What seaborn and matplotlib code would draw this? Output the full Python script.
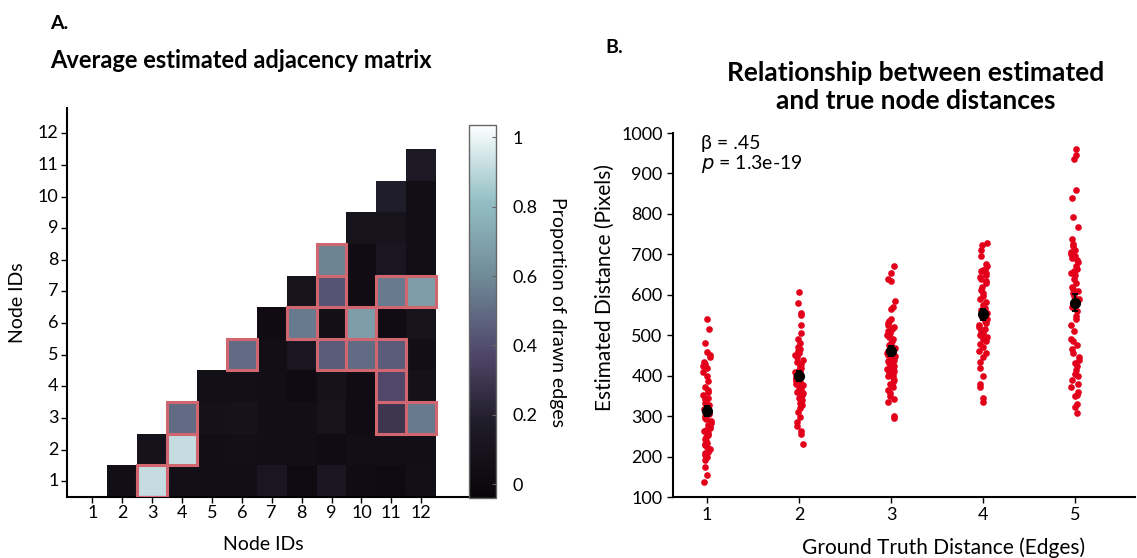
import numpy as np
import pandas as pd
import matplotlib
matplotlib.use("Agg")
import matplotlib.pyplot as plt
from matplotlib.colors import LinearSegmentedColormap
from matplotlib.patches import Rectangle
import seaborn as sns

plt.rcParams["font.family"] = ["Lato", "DejaVu Sans"]

# ---- panel A data: average estimated adjacency (column node -> values for rows 1..col-1)
nodes = list(range(1, 13))
col_values = {
    2: [0.04],
    3: [0.92, 0.08],
    4: [0.05, 0.92, 0.50],
    5: [0.04, 0.04, 0.07, 0.05],
    6: [0.04, 0.05, 0.08, 0.05, 0.50],
    7: [0.12, 0.04, 0.04, 0.04, 0.04, 0.02],
    8: [0.01, 0.04, 0.04, 0.02, 0.12, 0.55, 0.09],
    9: [0.12, 0.03, 0.09, 0.08, 0.45, 0.05, 0.42, 0.58],
    10: [0.03, 0.04, 0.03, 0.03, 0.50, 0.68, 0.03, 0.03, 0.09],
    11: [0.01, 0.04, 0.30, 0.38, 0.45, 0.03, 0.55, 0.12, 0.09, 0.18],
    12: [0.05, 0.04, 0.55, 0.07, 0.04, 0.09, 0.68, 0.04, 0.04, 0.04, 0.15],
}
# true edges (column node, row node), outlined in red
true_edges = [(3, 1), (4, 2), (4, 3), (6, 5), (8, 6), (9, 5), (9, 7), (9, 8),
              (10, 5), (10, 6), (11, 3), (11, 4), (11, 5), (11, 7), (12, 3), (12, 7)]

# ---- panel B data: estimated distances per ground-truth distance
d1 = [540, 515, 482, 458, 452, 445, 435, 428, 424, 418, 410, 398, 388, 372, 365, 360, 352, 346,
      342, 338, 332, 328, 322, 318, 312, 306, 300, 296, 292, 288, 284, 278, 274, 270, 266, 262,
      258, 254, 248, 244, 238, 234, 230, 228, 224, 218, 212, 208, 204, 198, 192, 175, 155, 136]
d2 = [608, 580, 555, 550, 525, 505, 490, 480, 470, 465, 460, 455, 450, 445, 440, 435, 430, 425,
      420, 415, 412, 408, 405, 400, 396, 392, 388, 384, 380, 376, 372, 368, 364, 360, 356, 352,
      348, 344, 340, 336, 332, 328, 320, 310, 298, 285, 275, 262, 255, 230]
d3 = [670, 655, 640, 635, 585, 570, 565, 540, 535, 530, 525, 520, 515, 510, 505, 500, 495, 490,
      485, 480, 476, 472, 468, 464, 460, 456, 452, 448, 444, 440, 436, 432, 428, 424, 420, 416,
      412, 408, 404, 400, 396, 390, 385, 380, 372, 365, 358, 350, 342, 335, 300, 295]
d4 = [728, 722, 712, 695, 675, 670, 665, 662, 658, 655, 650, 645, 640, 635, 628, 620, 612, 605,
      598, 590, 582, 575, 568, 562, 556, 550, 545, 540, 535, 530, 525, 520, 515, 510, 505, 500,
      495, 490, 485, 478, 470, 462, 455, 445, 435, 420, 400, 380, 372, 345, 335]
d5 = [960, 945, 935, 858, 840, 792, 768, 738, 725, 720, 712, 705, 700, 695, 690, 685, 680, 670,
      665, 660, 655, 650, 640, 630, 620, 615, 610, 605, 598, 590, 580, 570, 560, 548, 540, 525,
      510, 490, 485, 475, 465, 455, 445, 440, 432, 425, 415, 405, 398, 390, 380, 372, 360, 352,
      350, 330, 322, 308]

# build matrix (rows = row node, cols = column node)
mat = pd.DataFrame(np.nan, index=nodes, columns=nodes)
for c, vals in col_values.items():
    for r, v in enumerate(vals, start=1):
        mat.loc[r, c] = v

cmap = LinearSegmentedColormap.from_list("adj", [
    (0.0, (0.04, 0.02, 0.04)),
    (0.2, (0.12, 0.11, 0.16)),
    (0.4, (0.32, 0.29, 0.43)),
    (0.6, (0.44, 0.55, 0.60)),
    (0.8, (0.58, 0.75, 0.77)),
    (1.0, (0.99, 1.0, 1.0)),
])

fig = plt.figure(figsize=(11.37, 5.58), dpi=100)

# ---------------- Panel A ----------------
ax = fig.add_axes([0.0589, 0.1093, 0.3747, 0.6972])
cax = fig.add_axes([0.4125, 0.1075, 0.0237, 0.668])
sns.heatmap(mat, mask=mat.isna(), cmap=cmap, vmin=-0.04, vmax=1.035,
            ax=ax, cbar_ax=cax, linewidths=0)
ax.set_xlim(-0.345, 13.9)
ax.set_ylim(0.0, 12.3)
ax.set_xticks(np.arange(12) + 0.5)
ax.set_xticklabels(nodes, rotation=0, fontsize=13)
ax.set_yticks(np.arange(12) + 0.5)
ax.set_yticklabels(nodes, rotation=0, fontsize=13)
for s in ["left", "bottom"]:
    ax.spines[s].set_visible(True)
    ax.spines[s].set_linewidth(1.5)
    ax.spines[s].set_color("black")
ax.tick_params(axis="both", length=4, width=1, pad=2)
ax.set_xlabel("Node IDs", fontsize=14)
ax.set_ylabel("Node IDs", fontsize=14)
ax.xaxis.set_label_coords(0.46, -0.1)
ax.yaxis.set_label_coords(-0.095, 0.5)
for c, r in true_edges:
    ax.add_patch(Rectangle((c - 1, r - 1), 1, 1, fill=False,
                           edgecolor="#cf6670", linewidth=2.2, zorder=3))

cax.set_zorder(5)
cbar = ax.collections[0].colorbar
cbar.set_ticks([0, 0.2, 0.4, 0.6, 0.8, 1])
cbar.set_ticklabels(["0", "0.2", "0.4", "0.6", "0.8", "1"])
cbar.outline.set_edgecolor("#666666")
cbar.outline.set_linewidth(1)
cax.tick_params(labelsize=13, length=3, direction="in", color="#666666", pad=12)
cbar.set_label("Proportion of drawn edges", fontsize=14, rotation=-90, labelpad=20)

fig.text(0.044, 0.948, "A.", fontsize=14, fontweight="bold")
fig.text(0.044, 0.878, "Average estimated adjacency matrix", fontsize=17, fontweight="bold")

# ---------------- Panel B ----------------
dist = pd.DataFrame({
    "truth": [1] * len(d1) + [2] * len(d2) + [3] * len(d3) + [4] * len(d4) + [5] * len(d5),
    "est": d1 + d2 + d3 + d4 + d5,
})

bx = fig.add_axes([0.5919, 0.1093, 0.4063, 0.6523])
np.random.seed(3)
sns.stripplot(data=dist, x="truth", y="est", native_scale=True, jitter=0.045,
              color="#e3001b", size=4.8, linewidth=0, ax=bx, zorder=2)
sns.pointplot(data=dist, x="truth", y="est", native_scale=True, errorbar="se",
              color="black", linestyle="none", markersize=6, capsize=0.05,
              err_kws={"linewidth": 1.4}, ax=bx, zorder=4)
bx.set_xlim(0.63, 5.65)
bx.set_ylim(100, 1000)
bx.set_yticks(range(100, 1001, 100))
bx.set_xticks([1, 2, 3, 4, 5])
sns.despine(ax=bx)
for s in ["left", "bottom"]:
    bx.spines[s].set_linewidth(1.5)
bx.tick_params(axis="both", labelsize=13, length=4, width=1)
bx.set_xlabel("Ground Truth Distance (Edges)", fontsize=15)
bx.set_ylabel("Estimated Distance (Pixels)", fontsize=15)
bx.xaxis.set_label_coords(0.585, -0.11)
bx.yaxis.set_label_coords(-0.125, 0.575)
bx.text(0.06, 0.995, "β = .45", transform=bx.transAxes, fontsize=14, va="top")
bx.text(0.06, 0.945, "$\\it{p}$ = 1.3e-19", transform=bx.transAxes, fontsize=14, va="top")

fig.text(0.532, 0.905, "B.", fontsize=14, fontweight="bold")
fig.text(0.805, 0.805, "Relationship between estimated\nand true node distances",
         fontsize=19, fontweight="bold", ha="center", linespacing=1.2)

fig.savefig("out.png", dpi=100)
